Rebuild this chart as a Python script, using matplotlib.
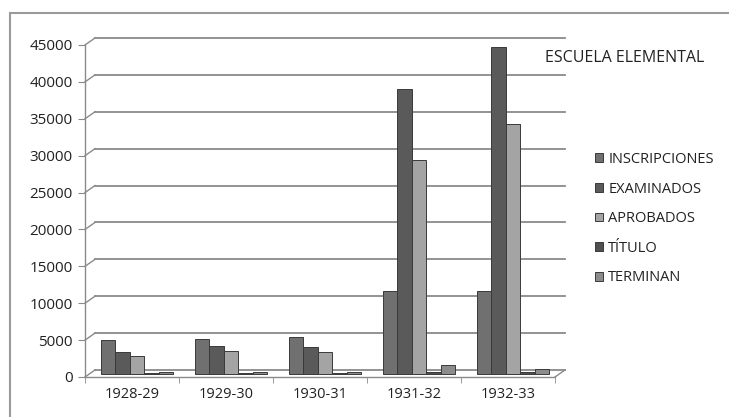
import matplotlib.pyplot as plt
import matplotlib.transforms as mtransforms
from matplotlib.patches import Rectangle
import numpy as np

plt.rcParams['font.family'] = ['Open Sans', 'DejaVu Sans']

periodos = ['1928-29', '1929-30', '1930-31', '1931-32', '1932-33']
inscripciones = [4500, 4700, 5000, 11200, 11200]
examinados = [2900, 3700, 3600, 38500, 44200]
aprobados = [2400, 3000, 2900, 29000, 33800]
titulo = [100, 100, 100, 200, 150]
terminan = [250, 250, 250, 1100, 600]

series = [
    ('INSCRIPCIONES', inscripciones, '#707070'),
    ('EXAMINADOS', examinados, '#5a5a5a'),
    ('APROBADOS', aprobados, '#a4a4a4'),
    ('TÍTULO', titulo, '#505050'),
    ('TERMINAN', terminan, '#8c8c8c'),
]

fig = plt.figure(figsize=(7.29, 4.17), dpi=100)
ax = fig.add_axes([85 / 729, 40 / 417, 470 / 729, 332 / 417])
ax.set_xlim(-0.5, 4.5)
ax.set_ylim(0, 45000)

# back wall of the pseudo-3D chart sits a few pixels up and right,
# the columns stand half way into that depth
depth = mtransforms.ScaledTranslation(10 / 100, 7 / 100, fig.dpi_scale_trans)
half = mtransforms.ScaledTranslation(5 / 100, 3.5 / 100, fig.dpi_scale_trans)
back = ax.transData + depth
grid_col = '#8a8a8a'
for v in range(0, 45001, 5000):
    ax.plot([-0.5, 4.5], [v, v], transform=back, color=grid_col, lw=1.3,
            clip_on=False, zorder=1)
    p0 = ax.transData.transform((-0.5, v))
    p1 = back.transform((-0.5, v))
    ax.plot([p0[0], p1[0]], [p0[1], p1[1]], transform=None, color=grid_col,
            lw=1.0, clip_on=False, zorder=1)

# right edge of the floor
q0 = ax.transData.transform((4.5, 0))
q1 = back.transform((4.5, 0))
ax.plot([q0[0], q1[0]], [q0[1], q1[1]], transform=None, color=grid_col,
        lw=1.0, clip_on=False, zorder=1)

x = np.arange(len(periodos))
w = 0.155
for i, (name, vals, col) in enumerate(series):
    ax.bar(x + (i - 2) * w, vals, w, color=col, edgecolor='#3a3a3a',
           lw=0.7, label=name, zorder=3, transform=ax.transData + half,
           clip_on=False)

for s in ['top', 'right']:
    ax.spines[s].set_visible(False)
for s in ['left', 'bottom']:
    ax.spines[s].set_color('#8a8a8a')
    ax.spines[s].set_linewidth(1.0)

ax.set_yticks(range(0, 45001, 5000))
ax.set_yticklabels([str(v) for v in range(0, 45001, 5000)], fontsize=11,
                   color='#222222')
ax.tick_params(axis='y', length=5, color='#8a8a8a', pad=4)
ax.set_xticks(x)
ax.set_xticklabels(periodos, fontsize=10.5, color='#222222')
ax.set_xticks(np.arange(-0.5, 5, 1), minor=True)
ax.tick_params(axis='x', which='major', length=0, pad=7)
ax.tick_params(axis='x', which='minor', length=4, color='#8a8a8a')

fig.text(545 / 729, 1 - 58 / 417, 'ESCUELA ELEMENTAL', fontsize=11.5,
         va='center', ha='left', color='#222222')

handles, labels = ax.get_legend_handles_labels()
fig.legend(handles, labels, loc='upper left',
           bbox_to_anchor=(595 / 729, 1 - 152 / 417), frameon=False,
           fontsize=10.5, handlelength=0.55, handleheight=0.55,
           handletextpad=0.35, labelspacing=1.0, borderpad=0,
           borderaxespad=0, labelcolor='#222222')

fig.patches.append(Rectangle((10 / 729, -0.02), 1.0, 1 - 13 / 417 + 0.02,
                             transform=fig.transFigure, fill=False,
                             edgecolor='#9a9a9a', lw=1.5))

fig.savefig('out.png', dpi=100)
